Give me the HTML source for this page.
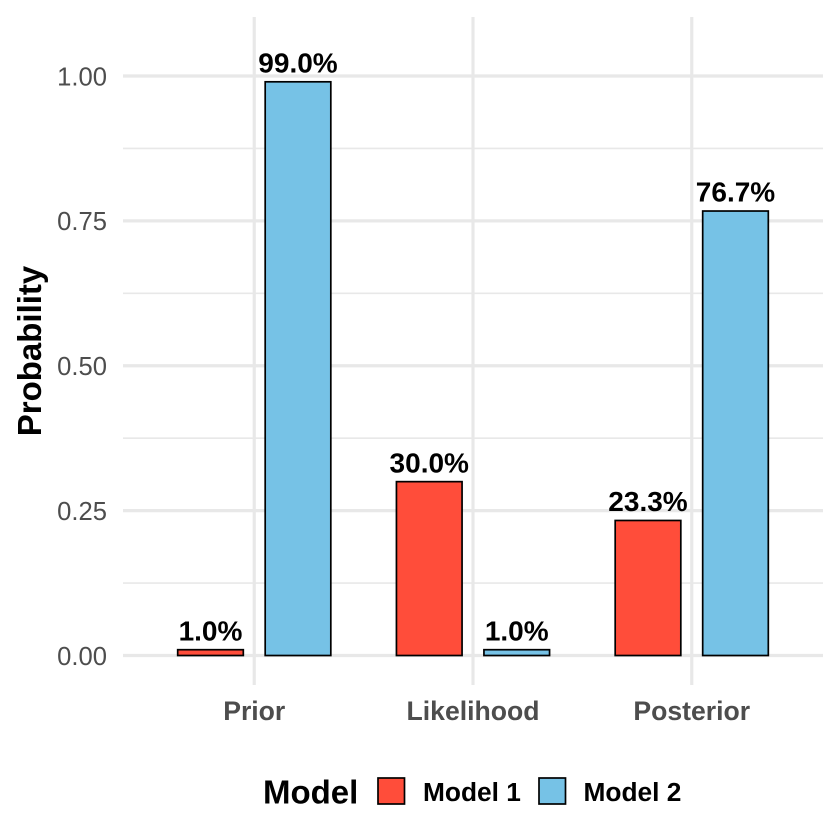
<!DOCTYPE html>
<html lang="en">
<head>
<meta charset="utf-8">
<title>Probability by Model</title>
<style>
html,body{margin:0;padding:0;background:#fff;}
svg{display:block;font-family:"Liberation Sans",Arial,sans-serif;}
</style>
</head>
<body>
<svg id="chart" xmlns="http://www.w3.org/2000/svg" width="840" height="840" viewBox="0 0 840 840"></svg>
<script>
const categories = ["Prior", "Likelihood", "Posterior"];
const model1Values = [0.01, 0.30, 0.233];
const model2Values = [0.99, 0.01, 0.767];
const model1Labels = ["1.0%", "30.0%", "23.3%"];
const model2Labels = ["99.0%", "1.0%", "76.7%"];
const majorTicks = [0, 0.25, 0.5, 0.75, 1];
const minorTicks = [0.125, 0.375, 0.625, 0.875];
const tickLabels = ["0.00", "0.25", "0.50", "0.75", "1.00"];
const seriesNames = ["Model 1", "Model 2"];

const svg = document.getElementById('chart');
const NS = 'http://www.w3.org/2000/svg';
const panel = {left: 123, right: 823, top: 17, bottom: 685};
const COLORS = ['#FF4D3A', '#76C2E6'];
const GRID = '#E8E8E8';

function yScale(v) { return 655.5 - v * 579.5; }
function xScale(i) { return panel.left + (i + 0.6) * (panel.right - panel.left) / (categories.length - 1 + 1.2); }
const band = (panel.right - panel.left) / (categories.length - 1 + 1.2);

function make(tag, attrs, text) {
  const el = document.createElementNS(NS, tag);
  for (const k in attrs) el.setAttribute(k, attrs[k]);
  if (text !== undefined) el.textContent = text;
  svg.appendChild(el);
  return el;
}

minorTicks.forEach(function (t) {
  const el = make('line', {x1: panel.left, x2: panel.right, y1: yScale(t), y2: yScale(t), stroke: GRID, 'stroke-width': 1.7});
  
  
});
majorTicks.forEach(function (t, i) {
  const el = make('line', {x1: panel.left, x2: panel.right, y1: yScale(t), y2: yScale(t), stroke: GRID, 'stroke-width': 3.2});
  
  
  const lab = make('text', {x: 107, y: yScale(t) + 9.3, 'text-anchor': 'end', 'font-size': 25.6, fill: '#4D4D4D'}, tickLabels[i]);
  
  
});
categories.forEach(function (c, i) {
  const el = make('line', {x1: xScale(i), x2: xScale(i), y1: panel.top, y2: panel.bottom, stroke: GRID, 'stroke-width': 3.2});
  
  
  const lab = make('text', {x: xScale(i), y: 720, 'text-anchor': 'middle', 'font-size': 26.6, 'font-weight': 'bold', fill: '#4D4D4D'}, c);
  
  
});

function drawSeries(values, labels, offset, color) {
  values.forEach(function (v, i) {
    const cx = xScale(i) + offset * band;
    const w = 0.3 * band;
    const bar = make('rect', {x: cx - w / 2, y: yScale(v), width: w, height: yScale(0) - yScale(v), fill: color, stroke: '#000', 'stroke-width': 1.7});
    
    
    const lab = make('text', {x: cx, y: yScale(v) - 9.3, 'text-anchor': 'middle', 'font-size': 28, 'font-weight': 'bold', fill: '#000'}, labels[i]);
    
    
  });
}
drawSeries(model1Values, model1Labels, -0.2, COLORS[0]);
drawSeries(model2Values, model2Labels, 0.2, COLORS[1]);

const yTitle = make('text', {transform: 'translate(41 351) rotate(-90)', 'text-anchor': 'middle', 'font-size': 33, 'font-weight': 'bold', fill: '#000'}, 'Probability');



const legendTitle = make('text', {x: 263, y: 803.5, 'font-size': 33, 'font-weight': 'bold', fill: '#000'}, 'Model');



const legendSwatchX = [378, 539];
const legendTextX = [423, 583.5];
seriesNames.forEach(function (name, i) {
  const sw = make('rect', {x: legendSwatchX[i], y: 778, width: 26.5, height: 26, fill: COLORS[i], stroke: '#000', 'stroke-width': 1.7});
  
  
  const t = make('text', {x: legendTextX[i], y: 801, 'font-size': 26.3, 'font-weight': 'bold', fill: '#000'}, name);
  
  
});
</script>
</body>
</html>
